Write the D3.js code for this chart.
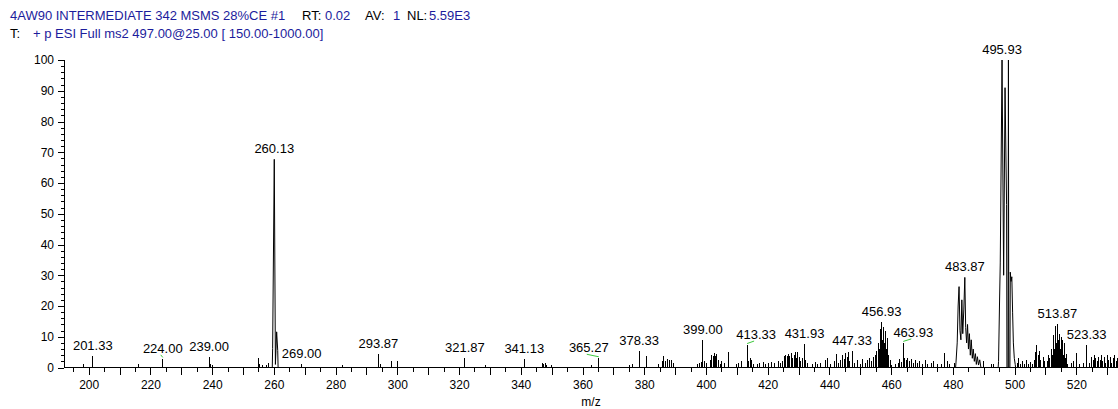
<!DOCTYPE html>
<html><head><meta charset="utf-8">
<script src="https://cdn.jsdelivr.net/npm/d3@7"></script>
<style>
body{margin:0;background:#fff;}
svg{display:block;font-family:"Liberation Sans",Arial,sans-serif;}
</style></head><body>
<svg id="chart" width="1118" height="409"></svg>
<script>
// ---------------- DATA ----------------
const headerLine1 = ["4AW90 INTERMEDIATE 342 MSMS 28%CE #1", "RT:", "0.02", "AV:", "1", "NL:", "5.59E3"];
const headerLine2 = ["T:", "+ p ESI Full ms2 497.00@25.00 [ 150.00-1000.00]"];
const xTickLabels = [200,220,240,260,280,300,320,340,360,380,400,420,440,460,480,500,520];
const yTickLabels = [0,10,20,30,40,50,60,70,80,90,100];
const xTitle = "m/z";

// isolated / noise peaks (m/z, relative abundance %)
const stickMz = [
 198.2,201.33,216.1,224.00,239.00,239.5,240.1,254.9,255.5,256.4,257.5,258.2,269.00,282.3,293.87,294.4,298.0,300.1,
 321.87,328.6,341.13,347.0,347.4,347.9,348.4,350.0,362.8,365.27,375.1,376.3,378.33,380.8,
 384.6,385.8,386.4,387.0,387.6,388.3,388.9,389.5,
 397.4,398.0,398.6,399.00,399.6,400.2,401.5,401.9,402.3,402.7,403.1,403.5,404.0,404.6,405.1,406.0,407.2,
 409.8,410.4,411.6,413.33,413.8,414.3,414.9,415.4,416.6,417.5,418.6,419.4,420.4,421.3,422.3,423.4,424.2,424.7,
 425.4,425.8,426.3,426.8,427.2,427.7,428.1,428.6,429.0,429.4,429.8,430.3,430.7,431.3,431.93,432.4,432.9,
 434.6,435.5,436.1,437.2,438.7,439.5,440.2,441.5,442.2,442.8,443.5,444.3,444.8,445.2,445.7,446.1,446.6,447.33,
 448.0,449.2,450.0,450.8,451.6,452.4,453.1,453.7,454.2,454.8,
 455.1,455.4,455.8,456.2,456.6,456.93,457.25,457.6,457.9,458.2,458.55,458.9,459.3,459.7,460.1,
 461.5,462.3,462.8,463.3,463.93,464.4,464.9,465.4,466.0,466.6,467.2,467.9,468.6,469.3,470.2,471.0,471.7,473.1,473.6,
 475.0,476.4,477.3,478.1,479.0,480.5,490.0,492.4,493.0,
 500.9,501.4,502.0,502.6,503.2,503.8,504.4,505.1,505.7,506.4,506.8,507.2,507.6,508.1,508.5,509.2,509.7,
 510.5,511.0,511.4,511.8,512.2,512.6,512.9,513.2,513.5,513.87,514.15,514.45,514.75,515.05,515.35,515.65,515.95,
 516.3,516.6,516.9,517.2,518.3,519.0,520.1,521.0,522.2,523.33,524.4,
 525.0,525.4,525.8,526.3,526.8,527.2,527.7,528.2,528.6,529.1,529.6,530.0,530.5,531.0,531.4,531.9,532.4,532.9,533.3
];
const stickInt = [
 1.2,3.7,1.0,2.8,3.5,1.2,0.8,3.0,1.2,0.7,0.8,1.5,1.3,0.8,4.3,1.2,2.2,2.0,
 3.1,0.8,2.7,1.5,1.3,1.5,0.8,0.8,0.8,3.0,0.8,1.0,5.4,3.8,
 1.2,2.0,3.8,2.2,2.8,2.5,2.6,1.5,
 1.0,1.5,1.8,8.9,2.0,1.5,2.5,4.2,3.6,4.8,3.9,4.5,2.4,1.3,2.2,1.5,5.1,
 1.0,1.6,2.0,7.3,2.0,3.2,2.6,1.2,1.0,1.5,1.8,1.2,1.6,1.9,1.4,2.0,1.5,2.2,
 3.9,4.2,3.6,4.4,3.8,4.6,3.2,4.0,5.2,3.0,5.0,3.5,2.2,3.0,7.6,2.5,1.5,
 1.2,1.8,1.0,1.6,2.4,3.0,1.0,2.0,4.5,1.5,2.5,4.0,2.8,4.8,3.5,5.0,2.0,5.4,
 1.5,2.5,1.2,2.8,1.5,2.4,3.0,2.0,3.4,4.0,
 3.0,5.5,8.0,6.0,12.5,14.9,9.0,13.2,8.0,12.0,6.0,9.5,4.0,2.5,0.8,
 1.2,1.5,2.8,1.8,8.0,3.0,2.4,3.2,2.0,2.8,1.5,2.4,1.6,2.0,1.2,2.5,1.0,1.4,2.0,
 1.0,1.2,4.8,2.0,1.0,1.5,2.0,1.2,1.0,
 1.5,3.0,1.0,2.0,1.2,2.4,1.0,1.8,1.0,2.5,5.0,7.3,4.0,5.5,2.5,3.5,2.0,
 2.0,4.0,3.0,6.0,4.0,10.5,6.0,13.4,8.0,14.1,9.0,11.0,6.0,10.0,5.0,9.0,4.0,
 8.0,3.0,4.5,1.0,1.5,2.0,4.7,1.2,1.5,7.3,1.5,
 3.5,2.5,4.0,3.0,2.0,3.5,2.5,4.0,2.0,3.5,1.5,4.0,2.5,3.5,1.5,3.0,4.0,2.0,3.0
];

// profile traces of the major ion clusters (m/z, relative abundance %)
const profileMz = [
 259.6,260.13,260.5,260.9,261.25,
 481.0,481.4,481.7,482.0,482.3,482.6,482.9,483.2,483.55,483.87,484.15,484.45,484.75,485.05,485.35,485.65,485.95,
 486.3,486.6,486.95,487.3,487.6,487.95,488.3,488.7,489.0,
 494.8,495.1,495.35,495.93,496.45,496.9,497.4,498.0,498.6,498.85,499.1,499.35,499.6,499.9,500.2
];
const profileInt = [
 6.2,67.7,1.0,11.6,5.5,
 1.5,8.0,20.0,26.3,12.0,9.0,22.0,11.0,19.0,29.3,13.0,8.0,14.0,6.0,11.0,4.0,9.0,
 3.0,6.0,2.0,4.5,1.0,3.5,0.8,2.5,0.5,
 2.0,20.0,34.0,100,30.0,91.0,53.0,100,31.0,28.0,29.5,18.0,8.0,3.0,1.0
];

// labelled peaks (m/z)
const labelMz = [201.33,224.00,239.00,260.13,269.00,293.87,321.87,341.13,365.27,378.33,399.00,
                 413.33,431.93,447.33,456.93,463.93,483.87,495.93,513.87,523.33];
// labels moved aside with a leader line
const leaderMz = [224.00,365.27,413.33,463.93];

// ---------------- LAYOUT ----------------
const leaderShiftPx = [0,-10,9,10];
const blue = "#1c1c9c", black = "#000";
const xDomain = [192, 533.5];

const svg = d3.select("#chart");
const x = d3.scaleLinear().domain(xDomain).range([64, 1118]);
const y = d3.scaleLinear().domain([0, 100]).range([367.5, 60]);

// header
function header(parts, colors, xs, baseY){
  const t = svg.append("text").attr("y", baseY).style("font-size","13px");
  parts.forEach((p,i)=>{
    t.append("tspan").attr("x", xs[i]).attr("fill", colors[i]).text(p);
  });
}
header(headerLine1, [blue,black,blue,black,blue,black,blue], [10,302,325,365,393,407,429], 20);
header(headerLine2, [black,blue], [10,33], 37.5);

// y axis
const yMinor = d3.axisLeft(y).tickValues(d3.range(0,101,2)).tickSize(3).tickFormat("");
const yMajor = d3.axisLeft(y).tickValues(yTickLabels).tickSize(6).tickPadding(4).tickFormat(d3.format("d"));
const gy1 = svg.append("g").attr("transform","translate(64,0)").call(yMinor);
const gy2 = svg.append("g").attr("transform","translate(64,0)").call(yMajor);
[gy1,gy2].forEach(g=>{g.select(".domain").remove(); g.attr("font-family",null);
  g.selectAll("line").attr("stroke","#000").attr("shape-rendering","crispEdges");});
gy2.selectAll("text").style("font-size","12px").attr("fill","#000");
svg.append("line").attr("x1",64).attr("x2",64).attr("y1",y(100)).attr("y2",y(0))
  .attr("stroke","#000").attr("shape-rendering","crispEdges");

// x axis
const xMinor = d3.axisBottom(x).tickValues(d3.range(195,534,10)).tickSize(4).tickFormat("");
const xMajor = d3.axisBottom(x).tickValues(d3.range(200,534,10)).tickSize(7).tickPadding(6)
  .tickFormat(d => xTickLabels.includes(d) ? d : "");
const gx1 = svg.append("g").attr("transform",`translate(0,${y(0)})`).call(xMinor);
const gx2 = svg.append("g").attr("transform",`translate(0,${y(0)})`).call(xMajor);
[gx1,gx2].forEach(g=>{g.select(".domain").remove(); g.attr("font-family",null);
  g.selectAll("line").attr("stroke","#000").attr("shape-rendering","crispEdges");});
gx2.selectAll("text").style("font-size","12px").attr("fill","#000");
svg.append("line").attr("x1",64).attr("x2",1118).attr("y1",y(0)).attr("y2",y(0))
  .attr("stroke","#000").attr("shape-rendering","crispEdges");
svg.append("text").attr("x",(64+1118)/2).attr("y",406).attr("text-anchor","middle")
  .style("font-size","12px").text(xTitle);

// spectrum
svg.append("clipPath").attr("id","plotclip").append("rect")
  .attr("x",64).attr("y",0).attr("width",1118-64).attr("height",y(0)+1);
const plot = svg.append("g").attr("clip-path","url(#plotclip)");

// sticks
plot.append("path")
  .attr("fill","none").attr("stroke","#000").attr("stroke-width",1).attr("shape-rendering","crispEdges")
  .attr("d", stickMz.map((m,i)=>`M${x(m)},${y(0)}V${y(stickInt[i])}`).join(""));

// profile clusters (continuous trace, broken where points are far apart)
const GAP = 0.6, HALF = 0.12;
const segs = [];
let cur = null, prev = null;
profileMz.forEach((m,i)=>{
  if(prev === null || m - prev > GAP){
    if(cur) { cur.push([prev+HALF,0]); segs.push(cur); }
    cur = [[m-HALF,0]];
  }
  cur.push([m, profileInt[i]]);
  prev = m;
});
cur.push([prev+HALF,0]); segs.push(cur);
const line = d3.line().x(d=>x(d[0])).y(d=>y(d[1]));
plot.selectAll("path.profile").data(segs).join("path").attr("class","profile")
  .attr("fill","none").attr("stroke","#000").attr("stroke-width",1)
  .attr("d", line);

// peak labels: placed above the highest signal under the label
const allMz = stickMz.concat(profileMz), allInt = stickInt.concat(profileInt);
const gl = svg.append("g").style("font-size","13px");
labelMz.forEach(m=>{
  const li = leaderMz.indexOf(m);
  const dx = li >= 0 ? leaderShiftPx[li] : 0;
  const cx = x(m) + dx;
  const t = gl.append("text").attr("text-anchor","middle").attr("x",cx).text(m.toFixed(2));
  const w = t.node().getComputedTextLength();
  const lo = x.invert(cx - w/2 - 1), hi = x.invert(cx + w/2 + 1);
  let mx = 0;
  allMz.forEach((mm,i)=>{ if(mm>=lo && mm<=hi) mx = Math.max(mx, allInt[i]); });
  const base = y(mx) - 6;
  t.attr("y", base);
  if(li >= 0){
    const pi = allMz.indexOf(m);
    gl.append("line").attr("x1",cx-2).attr("y1",base+2)
      .attr("x2",x(m)).attr("y2",y(allInt[pi])-1.5)
      .attr("stroke","#3cc83c").attr("stroke-width",1);
  }
});
</script>
</body></html>
